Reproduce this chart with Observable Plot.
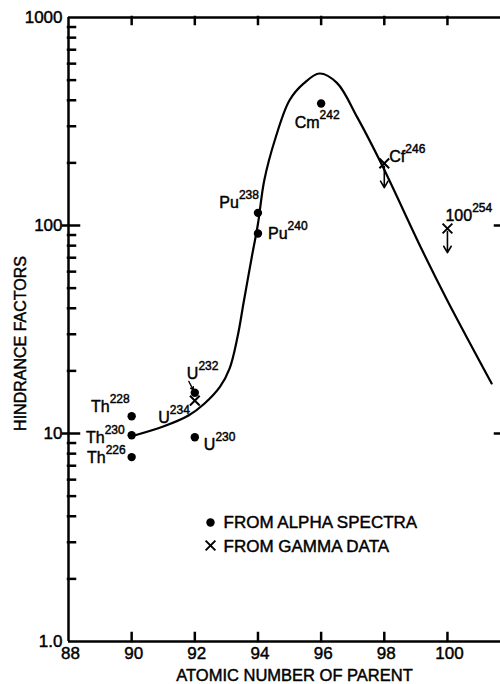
<!DOCTYPE html>
<html><head><meta charset="utf-8">
<script src="https://cdn.jsdelivr.net/npm/d3@7"></script>
<script src="https://cdn.jsdelivr.net/npm/@observablehq/plot@0.6"></script>
<style>body{margin:0;background:#fff;} svg{display:block;}</style>
</head><body><div id="chart"></div>
<script>
// ---------- data ----------
const alphaNames = ["Th^228", "Th^230", "Th^226", "U^230", "U^232", "Pu^238", "Pu^240", "Cm^242"];
const alphaZ     = [90, 90, 90, 92, 92, 94, 94, 96];
const alphaHF    = [12.1, 9.8, 7.7, 9.6, 15.7, 115, 91.5, 386];

const gammaNames = ["U^234", "Cf^246", "100^254"];
const gammaZ     = [92, 98, 100];
const gammaHF    = [14.4, 199, 96.7];

// upper-limit arrows (from the gamma value down to the arrow tip)
const limitZ    = [98, 100];
const limitFrom = [199, 96.7];
const limitTo   = [152, 74];

// small pointer from the U232 label to its point
const pointerZ1 = [91.81], pointerHF1 = [17.8], pointerZ2 = [91.95], pointerHF2 = [16.2];

// smooth systematics curve
const curveZ  = [90, 91, 91.8, 92.3, 92.8, 93.1, 93.35, 93.55, 93.8, 94, 94.2, 94.55, 95.0, 95.45, 95.95, 96.5, 97.15, 97.9, 99.2, 100, 101.4];
const curveHF = [9.7, 10.8, 12.2, 13.9, 16.8, 20.5, 29, 43, 70, 102, 165, 262, 400, 482, 538, 485, 330, 199, 76, 43.5, 17.4];

const xDomain = [88, 101.68];
const yDomain = [1, 1000];
const xTicks = [90, 92, 94, 96, 98, 100];
const xTickLabels = [88, 90, 92, 94, 96, 98, 100];
const yLabelValues = [1, 10, 100, 1000];
const yLabelTexts = ["1.0", "10", "100", "1000"];
const yMajorCross = [10, 100];
const yMinor = [2,3,4,5,6,7,8,9,20,30,40,50,60,70,80,90,200,300,400,500,600,700,800,900];
const legendTexts = ["FROM ALPHA SPECTRA", "FROM GAMMA DATA"];
const xTitle = "ATOMIC NUMBER OF PARENT";
const yTitle = "HINDRANCE FACTORS";

// ---------- layout ----------
const W = 500, H = 684, ML = 68, MR = 0, MT = 17, MB = 43;
const pxPerX = (W - ML - MR) / (xDomain[1] - xDomain[0]);
const pxPerDecade = (H - MT - MB) / Math.log10(yDomain[1] / yDomain[0]);
const xOff = px => px / pxPerX;                    // tick length px -> x units
const yMul = px => Math.pow(10, px / pxPerDecade); // tick length px -> log-y factor

const place = {
  "Th^228": {a: "end", dx: -2, dy: -4},
  "Th^230": {a: "end", dx: -7, dy: 8},
  "Th^226": {a: "end", dx: -6, dy: 6},
  "U^230":  {a: "start", dx: 9, dy: 13},
  "U^232":  {a: "start", dx: -8, dy: -14},
  "Pu^238": {a: "end", dx: 1, dy: -5},
  "Pu^240": {a: "start", dx: 10, dy: 5},
  "Cm^242": {a: "middle", dx: -4, dy: 25},
  "U^234":  {a: "end", dx: -5, dy: 22},
  "Cf^246": {a: "start", dx: 5, dy: -1},
  "100^254":{a: "start", dx: -2, dy: -8}
};

const alpha = alphaNames.map((n, i) => ({name: n, z: alphaZ[i], hf: alphaHF[i]}));
const gamma = gammaNames.map((n, i) => ({name: n, z: gammaZ[i], hf: gammaHF[i]}));
const limits = limitZ.map((z, i) => ({z, y1: limitFrom[i], y2: limitTo[i]}));
const pointer = pointerZ1.map((z, i) => ({x1: z, y1: pointerHF1[i], x2: pointerZ2[i], y2: pointerHF2[i]}));
const curve = curveZ.map((z, i) => ({z, hf: curveHF[i]}));

const FONT = "'Liberation Sans', Arial, sans-serif";
const TXT = {fill: "black", stroke: "black", strokeWidth: 0.45};
const TK = {stroke: "black", strokeWidth: 2.5, strokeLinecap: "square"};

const labelMarks = [...alpha, ...gamma].map(d => {
  const p = place[d.name];
  return Plot.text([d], {x: "z", y: "hf", text: "name", textAnchor: p.a, dx: p.dx, dy: p.dy,
    lineAnchor: "bottom", fontSize: 16, ...TXT});
});

const chart = Plot.plot({
  width: W, height: H,
  marginLeft: ML, marginRight: MR, marginTop: MT, marginBottom: MB,
  style: {fontFamily: FONT, background: "white", color: "black"},
  x: {domain: xDomain, axis: null},
  y: {type: "log", domain: yDomain, axis: null},
  marks: [
    // tick labels
    Plot.text(yLabelValues, {y: d => d, text: (d, i) => yLabelTexts[i], frameAnchor: "left",
      textAnchor: "end", dx: -6, fontSize: 17, ...TXT}),
    Plot.text(xTickLabels, {x: d => d, text: d => String(d), frameAnchor: "bottom",
      lineAnchor: "top", dy: 5, dx: 2, fontSize: 17, ...TXT}),
    // axis titles
    Plot.text([yTitle], {text: d => d, frameAnchor: "left", rotate: -90, dx: -48, dy: 14,
      textAnchor: "middle", fontSize: 16, ...TXT, lineAnchor: "middle"}),
    Plot.text([xTitle], {text: d => d, frameAnchor: "bottom", dx: 10, dy: 34,
      fontSize: 16.5, ...TXT, lineAnchor: "middle"}),
    // curve
    Plot.line(curve, {x: "z", y: "hf", curve: "catmull-rom", stroke: "black", strokeWidth: 2.2}),
    // limit arrows
    Plot.arrow(limits, {x1: "z", x2: "z", y1: "y1", y2: "y2", stroke: "black", strokeWidth: 1.6, headLength: 7, insetStart: 3}),
    Plot.arrow(pointer, {x1: "x1", y1: "y1", x2: "x2", y2: "y2", stroke: "black", strokeWidth: 1.3, headLength: 4}),
    // points
    Plot.dot(alpha, {x: "z", y: "hf", r: 4.2, fill: "black", stroke: "none"}),
    Plot.dot(gamma, {x: "z", y: "hf", r: 4.5, symbol: "times", stroke: "black", strokeWidth: 2}),
    // point labels
    ...labelMarks,
    // legend
    Plot.dot([0], {frameAnchor: "top-left", dx: 142, dy: 505, r: 4.2, fill: "black", stroke: "none"}),
    Plot.dot([0], {frameAnchor: "top-left", dx: 142, dy: 528, r: 4.5, symbol: "times", stroke: "black", strokeWidth: 2}),
    Plot.text([legendTexts[0]], {text: d => d, frameAnchor: "top-left", dx: 155, dy: 510,
      textAnchor: "start", lineAnchor: "bottom", fontSize: 17, ...TXT}),
    Plot.text([legendTexts[1]], {text: d => d, frameAnchor: "top-left", dx: 155, dy: 534,
      textAnchor: "start", lineAnchor: "bottom", fontSize: 17, ...TXT}),
    // frame lines
    Plot.ruleY([yDomain[0]], {stroke: "black", strokeWidth: 2.5}),
    Plot.ruleY([yDomain[1]], {stroke: "black", strokeWidth: 2.5}),
    Plot.ruleX([xDomain[0]], {stroke: "black", strokeWidth: 2.5}),
    // y ticks: inward minor, crossing major, right-edge major
    Plot.ruleY(yMinor, {x1: xDomain[0], x2: xDomain[0] + xOff(7), ...TK}),
    Plot.ruleY(yMajorCross, {x1: xDomain[0] - xOff(5), x2: xDomain[0] + xOff(11), ...TK}),
    Plot.ruleY(yMajorCross, {x1: xDomain[1] - xOff(5), x2: xDomain[1], ...TK}),
    // x ticks: bottom up, top down
    Plot.ruleX(xTicks, {y1: yDomain[0], y2: yDomain[0] * yMul(8), ...TK}),
    Plot.ruleX(xTicks, {y1: yDomain[1] / yMul(7), y2: yDomain[1], ...TK})
  ]
});

// superscript mass numbers
d3.select(chart).selectAll("text").each(function () {
  const t = this.textContent;
  if (!t.includes("^")) return;
  const [base, sup] = t.split("^");
  const s = d3.select(this);
  s.text(null);
  s.append("tspan").text(base);
  s.append("tspan").attr("font-size", 12).attr("dy", -9).text(sup);
});

document.getElementById("chart").appendChild(chart);
</script>
</body></html>
